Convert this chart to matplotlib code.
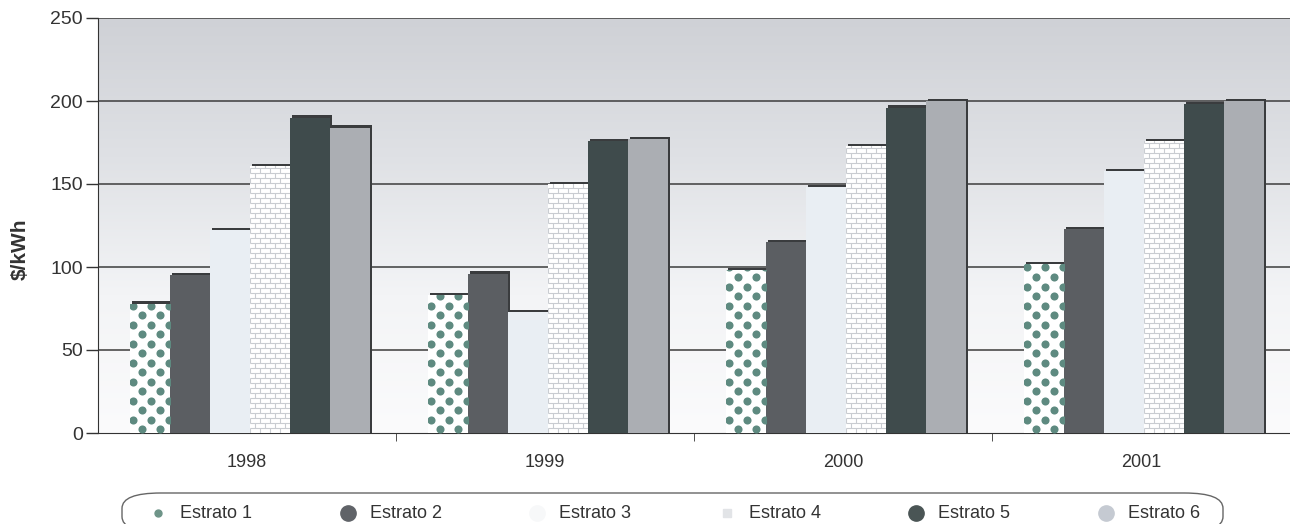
import numpy as np
import matplotlib
matplotlib.use("Agg")
import matplotlib.pyplot as plt
from matplotlib.lines import Line2D
from matplotlib.patches import FancyBboxPatch
from matplotlib.collections import LineCollection

plt.rcParams["font.family"] = ["Liberation Sans", "DejaVu Sans"]

# Data ($/kWh)
YEARS = ["1998", "1999", "2000", "2001"]
SERIES = ["Estrato 1", "Estrato 2", "Estrato 3", "Estrato 4", "Estrato 5", "Estrato 6"]
ESTRATO_1 = [78, 83, 98, 102]
ESTRATO_2 = [95, 96, 115, 123]
ESTRATO_3 = [122, 73, 148, 158]
ESTRATO_4 = [161, 150, 173, 176]
ESTRATO_5 = [190, 176, 196, 198]
ESTRATO_6 = [184, 177, 200, 200]
VALUES = [ESTRATO_1, ESTRATO_2, ESTRATO_3, ESTRATO_4, ESTRATO_5, ESTRATO_6]

FACE_COLORS = ["white", "#5b5e62", "#e9eef3", "white", "#3f4b4c", "#abaeb3"]
LEGEND_COLORS = ["#6e9488", "#606368", "#f7f8f9", "#e2e4e7", "#4a5555", "#c5cad2"]
DOT_COLOR = "#5e8a80"
BRICK_COLOR = "#c9ccd1"

W, H = 1290, 524
fig = plt.figure(figsize=(W / 100, H / 100), dpi=100)
ax = fig.add_axes([98 / W, 1 - 433 / H, (1290 - 98) / W, (433 - 18) / H])

# gradient background: grey on top, fading to white
grad = np.linspace(0, 1, 256).reshape(-1, 1)
cmap = matplotlib.colors.LinearSegmentedColormap.from_list(
    "bg", ["#fbfbfc", "#f3f4f6", "#dfe1e5", "#cfd1d6"])
ax.imshow(grad, extent=[-0.5, 3.5, 0, 250], origin="lower", aspect="auto",
          cmap=cmap, zorder=0, interpolation="bicubic")

x = np.arange(len(YEARS))
width = 0.134
offsets = (np.arange(6) - 2.5) * width + 0.01

# pixel scale helpers (data units per pixel)
px_x = 4.0 / 1192
px_y = 250.0 / 415


def dot_fill(rect):
    x0, y0 = rect.get_x(), rect.get_y()
    w, h = rect.get_width(), rect.get_height()
    dx, dy = 18 * px_x, 9.5 * px_y
    pts = []
    k = 0
    yy = y0 + 4 * px_y
    while yy < y0 + h + dy:
        xx = x0 + (0 if k % 2 == 0 else dx / 2) - dx / 2 + 3 * px_x
        while xx < x0 + w + dx:
            pts.append((xx, yy))
            xx += dx
        yy += dy
        k += 1
    pts = np.array(pts)
    sc = ax.scatter(pts[:, 0], pts[:, 1], s=34, color=DOT_COLOR,
                    linewidths=0, zorder=4)
    sc.set_clip_path(rect)


def brick_fill(rect):
    x0, y0 = rect.get_x(), rect.get_y()
    w, h = rect.get_width(), rect.get_height()
    bh, bw = 5 * px_y, 10 * px_x
    segs = []
    k = 0
    yy = y0
    while yy < y0 + h:
        segs.append([(x0, yy), (x0 + w, yy)])
        xx = x0 + (0 if k % 2 == 0 else bw / 2)
        while xx < x0 + w:
            segs.append([(xx, yy), (xx, yy + bh)])
            xx += bw
        yy += bh
        k += 1
    lc = LineCollection(segs, colors=BRICK_COLOR, linewidths=0.8, zorder=4)
    ax.add_collection(lc)
    lc.set_clip_path(rect)


for i, vals in enumerate(VALUES):
    pos = x + offsets[i]
    # shadow behind bars for the 3D look
    ax.bar(pos + 0.006, np.array(vals) + 1.3, width=width, color="#3a3c3e",
           zorder=2, linewidth=0)
    bars = ax.bar(pos, vals, width=width, color=FACE_COLORS[i], zorder=3,
                  linewidth=0)
    for b in bars:
        if i == 0:
            dot_fill(b)
        elif i == 3:
            brick_fill(b)

for yv in [50, 100, 150, 200, 250]:
    ax.axhline(yv, color="#3c3c3c", linewidth=1.1, zorder=1)

ax.set_xlim(-0.5, 3.5)
ax.set_ylim(0, 250)
ax.set_yticks([0, 50, 100, 150, 200, 250])
ax.tick_params(axis="y", direction="out", length=9, width=1, colors="#333333",
               labelsize=14, pad=2)
ax.set_xticks(x)
ax.set_xticklabels(YEARS)
ax.set_xticks([0.5, 1.5, 2.5], minor=True)
ax.tick_params(axis="x", which="major", length=0, labelsize=13, pad=15,
               colors="#333333")
ax.tick_params(axis="x", which="minor", direction="out", length=6, color="#333333")
for s in ["top", "right"]:
    ax.spines[s].set_visible(False)
ax.spines["left"].set_color("#333333")
ax.spines["bottom"].set_color("#333333")
ax.set_ylabel("\\$/kWh", fontsize=15, fontweight="bold", color="#333333")
ax.yaxis.set_label_coords((30 - 98) / 1192, (433 - 249) / 415)

# legend box and entries, laid out like the original
box = FancyBboxPatch((122 / W, 1 - 532 / H), (1223 - 122) / W, (532 - 493) / H,
                     boxstyle="round,pad=0,rounding_size=0.03",
                     transform=fig.transFigure, facecolor="white",
                     edgecolor="#666666", linewidth=1.0, mutation_aspect=H / W * 2.4)
fig.patches.append(box)
text_x0, text_step, ly = 180, 189.6, 1 - 513 / H
for i, name in enumerate(SERIES):
    tx = text_x0 + text_step * i
    fig.text(tx / W, ly, name, fontsize=13, color="#333333", va="center")
    ms = 5 if i == 0 else (6 if i == 3 else 11)
    marker = "s" if i == 3 else "o"
    fig.add_artist(Line2D([(tx - 22) / W], [ly], marker=marker, markersize=ms,
                          markerfacecolor=LEGEND_COLORS[i],
                          markeredgecolor=LEGEND_COLORS[i], linestyle="none",
                          transform=fig.transFigure))

fig.savefig("out.png", dpi=100)
